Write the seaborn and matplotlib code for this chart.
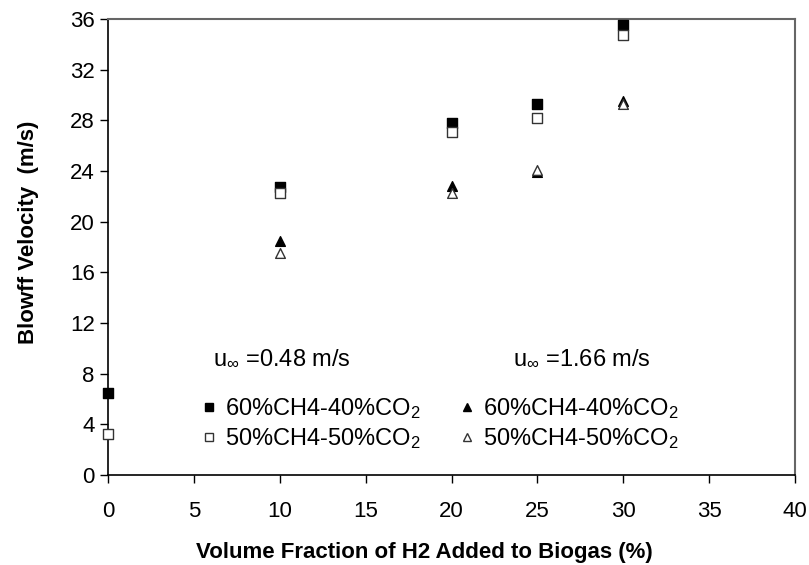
import matplotlib
matplotlib.use("Agg")
import matplotlib.pyplot as plt
import seaborn as sns
import pandas as pd
from matplotlib.lines import Line2D

sns.set_style("ticks")
plt.rcParams['font.family'] = ['Liberation Sans', 'DejaVu Sans']
plt.rcParams['mathtext.fontset'] = 'custom'
plt.rcParams['mathtext.rm'] = 'Liberation Sans'
plt.rcParams['mathtext.it'] = 'Liberation Sans'
plt.rcParams['text.color'] = 'black'
plt.rcParams['axes.labelcolor'] = 'black'

# Data
h2_low = [0, 10, 20, 25, 30]
sq_60 = [6.5, 22.7, 27.8, 29.3, 35.5]
sq_50 = [3.2, 22.3, 27.1, 28.2, 34.7]
h2_high = [10, 20, 25, 30]
tri_60 = [18.5, 22.8, 23.9, 29.5]
tri_50 = [17.5, 22.3, 24.1, 29.3]

lab60 = "60%CH4-40%CO$_2$"
lab50 = "50%CH4-50%CO$_2$"
u_low = r"u$_\infty$ =0.48 m/s"
u_high = r"u$_\infty$ =1.66 m/s"

fig = plt.figure(figsize=(8.09, 5.65), dpi=100)
ax = fig.add_axes([0.1335, 0.1593, 0.8492, 0.8071])

series = [
    (h2_low, sq_60, 's', 'black', 'black', 7.5),
    (h2_low, sq_50, 's', 'white', '#333333', 7.5),
    (h2_high, tri_60, '^', 'black', 'black', 7.0),
    (h2_high, tri_50, '^', 'white', '#333333', 7.0),
]
for xs, ys, m, fc, ec, ms in series:
    df = pd.DataFrame({'x': xs, 'y': ys})
    sns.scatterplot(data=df, x='x', y='y', ax=ax, marker=m, s=ms**2,
                    color=fc, edgecolor=ec, linewidth=1.0, clip_on=False, zorder=3)

ax.set_xlim(0, 40)
ax.set_ylim(0, 36)
ax.set_xticks(range(0, 41, 5))
ax.set_yticks(range(0, 37, 4))
ax.tick_params(axis='both', labelsize=16, direction='out', length=5.5, width=1,
               colors='black')
ax.tick_params(axis='y', pad=4)
ax.tick_params(axis='x', pad=13.5)
for side in ['left', 'bottom']:
    ax.spines[side].set_color('black')
    ax.spines[side].set_linewidth(1.2)
for side in ['top', 'right']:
    ax.spines[side].set_visible(True)
    ax.spines[side].set_color('#666666')
    ax.spines[side].set_linewidth(1.5)

ax.set_xlabel("Volume Fraction of H2 Added to Biogas (%)", fontsize=16,
              fontweight='bold', color='black')
ax.set_ylabel("Blowff Velocity  (m/s)", fontsize=16, fontweight='bold', color='black')
ax.xaxis.set_label_coords(0.46, -0.147)
ax.yaxis.set_label_coords(-0.10, 0.533)

ax.text(0.153, 0.241, u_low, transform=ax.transAxes, fontsize=17, va='baseline',
        ha='left', color='black')
ax.text(0.5895, 0.241, u_high, transform=ax.transAxes, fontsize=17, va='baseline',
        ha='left', color='black')

h1 = [Line2D([], [], ls='', marker='s', mfc='black', mec='black', ms=6),
      Line2D([], [], ls='', marker='s', mfc='white', mec='#333333', ms=6)]
h2 = [Line2D([], [], ls='', marker='^', mfc='black', mec='black', ms=6),
      Line2D([], [], ls='', marker='^', mfc='white', mec='#333333', ms=6)]
common = dict(loc='upper left', frameon=False, fontsize=17, handlelength=0.8,
              handletextpad=0.27, borderpad=0, borderaxespad=0, labelspacing=0.2,
              labelcolor='black')
leg1 = ax.legend(h1, [lab60, lab50], bbox_to_anchor=(0.133, 0.172), **common)
ax.add_artist(leg1)
ax.legend(h2, [lab60, lab50], bbox_to_anchor=(0.5087, 0.172), **common)

fig.savefig("out.png", dpi=100)
